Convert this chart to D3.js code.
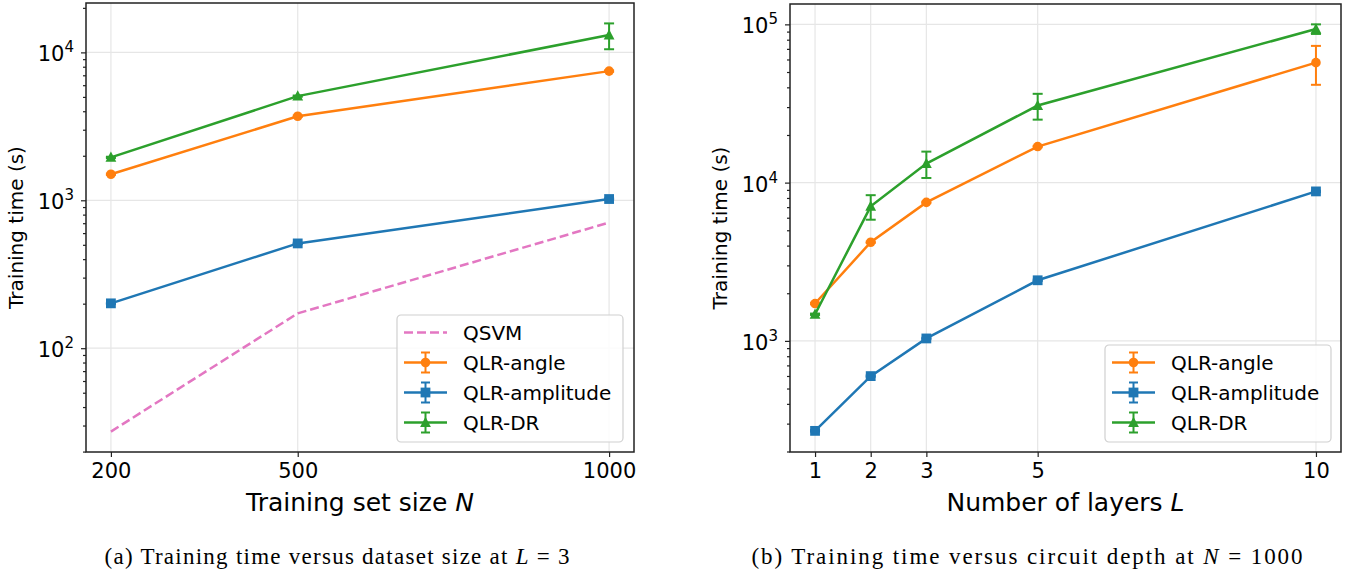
<!DOCTYPE html>
<html>
<head>
<meta charset="utf-8">
<script src="https://cdn.jsdelivr.net/npm/d3@7"></script>
<style>
  body { margin: 0; background: #fff; }
  svg { font-family: "DejaVu Sans", sans-serif; }
</style>
</head>
<body>
<div id="chart"></div>
<script>
var width = 1359,
  height = 573;

// (a) training set size, L = 3
var sizeN = [200, 500, 1000];
var qsvmTimeN = [27.3, 172, 707];
var angleTimeN = [1500, 3700, 7470];
var angleErrN = [15, 40, 80];
var ampTimeN = [201, 511, 1020];
var ampErrN = [2, 5, 10];
var drTimeN = [1950, 5060, 13100];
var drErrN = [20, 50, 2600];

// (b) number of layers, N = 1000
var layersL = [1, 2, 3, 5, 10];
var angleTimeL = [1722, 4200, 7500, 16900, 57300];
var angleErrL = [20, 40, 80, 170, 15800];
var ampTimeL = [270, 599, 1036, 2415, 8800];
var ampErrL = [3, 6, 10, 25, 90];
var drTimeL = [1473, 7080, 13200, 30700, 93500];
var drErrL = [15, 1250, 2500, 5700, 6500];

var xTicksN = [200, 500, 1000];
var xTicksL = [1, 2, 3, 5, 10];

var colors = {
  qsvm: "#e377c2",
  angle: "#ff7f0e",
  amp: "#1f77b4",
  dr: "#2ca02c"
};

var svg = d3.select("#chart").append("svg")
  .attr("width", width)
  .attr("height", height);

function drawPanel(opt) {
  var g = svg.append("g");
  var x0 = opt.box[0], y0 = opt.box[1], x1 = opt.box[2], y1 = opt.box[3];

  // matplotlib-like 5% margins
  var xe = d3.extent(opt.xs);
  var xpad = (xe[1] - xe[0]) * 0.05;
  var lo = [], hi = [];
  opt.series.forEach(function(s) {
    s.values.forEach(function(v, i) {
      var e = s.err ? s.err[i] : 0;
      lo.push(Math.log10(v - e));
      hi.push(Math.log10(v + e));
    });
  });
  var ymin = d3.min(lo), ymax = d3.max(hi);
  var ypad = (ymax - ymin) * 0.05;

  var x = d3.scaleLinear()
    .domain([xe[0] - xpad, xe[1] + xpad])
    .range([x0, x1]);
  var y = d3.scaleLog()
    .domain([Math.pow(10, ymin - ypad), Math.pow(10, ymax + ypad)])
    .range([y1, y0]);

  var dom = y.domain();
  var majors = [], minors = [];
  for (var k = Math.floor(Math.log10(dom[0])); k <= Math.ceil(Math.log10(dom[1])); k++) {
    for (var m = 1; m < 10; m++) {
      var v = m * Math.pow(10, k);
      if (v < dom[0] || v > dom[1]) continue;
      if (m === 1) majors.push(v); else minors.push(v);
    }
  }

  // grid
  g.append("g").selectAll("line.gx")
    .data(opt.xticks).enter().append("line")
    .attr("x1", function(d) { return x(d); })
    .attr("x2", function(d) { return x(d); })
    .attr("y1", y0).attr("y2", y1)
    .attr("stroke", "#e6e6e6").attr("stroke-width", 1.2);
  g.append("g").selectAll("line.gy")
    .data(majors).enter().append("line")
    .attr("y1", function(d) { return y(d); })
    .attr("y2", function(d) { return y(d); })
    .attr("x1", x0).attr("x2", x1)
    .attr("stroke", "#e6e6e6").attr("stroke-width", 1.2);

  // axes
  var xAxis = g.append("g")
    .attr("transform", "translate(0," + y1 + ")")
    .call(d3.axisBottom(x).tickValues(opt.xticks).tickSize(5).tickPadding(6).tickFormat(d3.format("d")));
  xAxis.select(".domain").remove();
  xAxis.selectAll("text").attr("font-size", 21).attr("fill", "#000")
    .attr("font-family", "DejaVu Sans");

  var yMinor = g.append("g")
    .attr("transform", "translate(" + x0 + ",0)")
    .call(d3.axisLeft(y).tickValues(minors).tickSize(3).tickFormat(""));
  yMinor.select(".domain").remove();

  var yAxis = g.append("g")
    .attr("transform", "translate(" + x0 + ",0)")
    .call(d3.axisLeft(y).tickValues(majors).tickSize(5).tickPadding(7));
  yAxis.select(".domain").remove();
  yAxis.selectAll("text")
    .attr("font-size", 21).attr("fill", "#000").attr("font-family", "DejaVu Sans")
    .attr("dy", "0.4em")
    .each(function(d) {
      var t = d3.select(this);
      t.text(null);
      t.append("tspan").text("10");
      t.append("tspan").attr("font-size", 15).attr("dy", -9)
        .text(Math.round(Math.log10(d)));
    });
  g.selectAll(".tick line").attr("stroke", "#222").attr("stroke-width", 1.2);

  // series
  var line = d3.line()
    .x(function(d) { return x(d[0]); })
    .y(function(d) { return y(d[1]); });

  opt.series.forEach(function(s) {
    var pts = opt.xs.map(function(v, i) { return [v, s.values[i], s.err ? s.err[i] : 0]; });
    g.append("path")
      .datum(pts)
      .attr("d", line)
      .attr("fill", "none")
      .attr("stroke", s.color)
      .attr("stroke-width", 2.5)
      .attr("stroke-dasharray", s.dash ? "9,4" : null);
    if (s.err) {
      var eb = g.append("g").selectAll("g").data(pts).enter().append("g")
        .attr("stroke", s.color).attr("stroke-width", 2);
      eb.append("line")
        .attr("x1", function(d) { return x(d[0]); })
        .attr("x2", function(d) { return x(d[0]); })
        .attr("y1", function(d) { return y(d[1] - d[2]); })
        .attr("y2", function(d) { return y(d[1] + d[2]); });
      [-1, 1].forEach(function(sg) {
        eb.append("line")
          .attr("x1", function(d) { return x(d[0]) - 5; })
          .attr("x2", function(d) { return x(d[0]) + 5; })
          .attr("y1", function(d) { return y(d[1] + sg * d[2]); })
          .attr("y2", function(d) { return y(d[1] + sg * d[2]); });
      });
    }
    if (s.marker) {
      g.append("g").selectAll("path").data(pts).enter().append("path")
        .attr("transform", function(d) { return "translate(" + x(d[0]) + "," + y(d[1]) + ")"; })
        .attr("d", markerPath(s.marker))
        .attr("fill", s.color);
    }
  });

  // frame
  g.append("rect")
    .attr("x", x0).attr("y", y0)
    .attr("width", x1 - x0).attr("height", y1 - y0)
    .attr("fill", "none").attr("stroke", "#222").attr("stroke-width", 1.5);

  // labels
  var xl = g.append("text")
    .attr("x", (x0 + x1) / 2).attr("y", 511)
    .attr("text-anchor", "middle").attr("font-size", 25);
  xl.append("tspan").text(opt.xlabel);
  xl.append("tspan").attr("font-style", "italic").text(opt.xvar);

  g.append("text")
    .attr("transform", "translate(" + opt.ylabelX + "," + ((y0 + y1) / 2) + ") rotate(-90)")
    .attr("text-anchor", "middle").attr("font-size", 20)
    .text("Training time (s)");

  // legend
  var lg = g.append("g").attr("transform", "translate(" + opt.legend[0] + "," + opt.legend[1] + ")");
  var legendSeries = opt.series.slice().sort(function(a, b) { return a.order - b.order; });
  lg.append("rect")
    .attr("width", 226).attr("height", opt.legendH)
    .attr("rx", 4)
    .attr("fill", "#fff").attr("fill-opacity", 0.85)
    .attr("stroke", "#d0d0d0").attr("stroke-width", 1.2);
  legendSeries.forEach(function(s, i) {
    var cy = 17.5 + i * 30;
    var row = lg.append("g").attr("transform", "translate(0," + cy + ")");
    row.append("line")
      .attr("x1", 7).attr("x2", 50)
      .attr("stroke", s.color).attr("stroke-width", 2.5)
      .attr("stroke-dasharray", s.dash ? "9,4" : null);
    if (s.err) {
      row.append("line").attr("x1", 28.5).attr("x2", 28.5).attr("y1", -10).attr("y2", 10)
        .attr("stroke", s.color).attr("stroke-width", 2);
      row.append("line").attr("x1", 24).attr("x2", 33).attr("y1", -10).attr("y2", -10)
        .attr("stroke", s.color).attr("stroke-width", 2);
      row.append("line").attr("x1", 24).attr("x2", 33).attr("y1", 10).attr("y2", 10)
        .attr("stroke", s.color).attr("stroke-width", 2);
    }
    if (s.marker) {
      row.append("path").attr("transform", "translate(28.5,0)")
        .attr("d", markerPath(s.marker)).attr("fill", s.color);
    }
    row.append("text").attr("x", 66).attr("y", 7)
      .attr("font-size", 20).text(s.name);
  });

  // caption
  var cap = svg.append("text")
    .attr("x", opt.caption.x).attr("y", 564)
    .attr("text-anchor", "middle")
    .attr("font-family", "Liberation Serif, serif").attr("font-size", 23)
    .attr("textLength", opt.caption.w).attr("lengthAdjust", "spacing");
  cap.append("tspan").text(opt.caption.text);
  cap.append("tspan").attr("font-style", "italic").text(opt.caption.var);
  cap.append("tspan").text(opt.caption.rest);
}

function markerPath(type) {
  if (type === "circle") return d3.symbol(d3.symbolCircle, 72)();
  if (type === "square") return "M-4.9,-4.9H4.9V4.9H-4.9Z";
  return "M0,-5.8L5.4,4.4H-5.4Z";
}

drawPanel({
  box: [86, 3, 634, 452],
  xs: sizeN,
  xticks: xTicksN,
  xlabel: "Training set size ",
  xvar: "N",
  ylabelX: 23,
  legend: [397, 315],
  legendH: 127,
  caption: { x: 337, w: 465, text: "(a) Training time versus dataset size at ", var: "L", rest: " = 3" },
  series: [
    { name: "QSVM", values: qsvmTimeN, color: colors.qsvm, dash: true, order: 0 },
    { name: "QLR-angle", values: angleTimeN, err: angleErrN, color: colors.angle, marker: "circle", order: 1 },
    { name: "QLR-amplitude", values: ampTimeN, err: ampErrN, color: colors.amp, marker: "square", order: 2 },
    { name: "QLR-DR", values: drTimeN, err: drErrN, color: colors.dr, marker: "triangle", order: 3 }
  ]
});

drawPanel({
  box: [790, 4, 1341, 452],
  xs: layersL,
  xticks: xTicksL,
  xlabel: "Number of layers ",
  xvar: "L",
  ylabelX: 727,
  legend: [1105, 345],
  legendH: 97,
  caption: { x: 1027, w: 551, text: "(b) Training time versus circuit depth at ", var: "N", rest: " = 1000" },
  series: [
    { name: "QLR-angle", values: angleTimeL, err: angleErrL, color: colors.angle, marker: "circle", order: 1 },
    { name: "QLR-amplitude", values: ampTimeL, err: ampErrL, color: colors.amp, marker: "square", order: 2 },
    { name: "QLR-DR", values: drTimeL, err: drErrL, color: colors.dr, marker: "triangle", order: 3 }
  ]
});
</script>
</body>
</html>
